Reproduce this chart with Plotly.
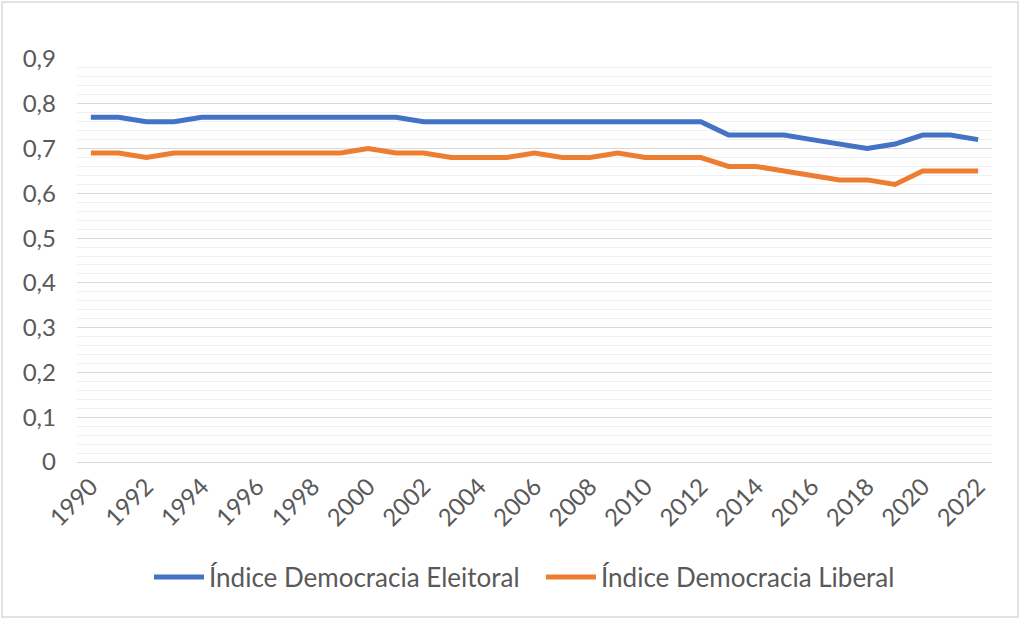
import plotly.graph_objects as go

years = list(range(1990, 2023))
eleitoral = [0.77, 0.77, 0.76, 0.76, 0.77, 0.77, 0.77, 0.77, 0.77, 0.77,
             0.77, 0.77, 0.76, 0.76, 0.76, 0.76, 0.76, 0.76, 0.76, 0.76,
             0.76, 0.76, 0.76, 0.73, 0.73, 0.73, 0.72, 0.71, 0.70, 0.71,
             0.73, 0.73, 0.72]
liberal = [0.69, 0.69, 0.68, 0.69, 0.69, 0.69, 0.69, 0.69, 0.69, 0.69,
           0.70, 0.69, 0.69, 0.68, 0.68, 0.68, 0.69, 0.68, 0.68, 0.69,
           0.68, 0.68, 0.68, 0.66, 0.66, 0.65, 0.64, 0.63, 0.63, 0.62,
           0.65, 0.65, 0.65]
names = ["Índice Democracia Eleitoral", "Índice Democracia Liberal"]
colors = ["#4472C4", "#ED7D31"]

fig = go.Figure()
for vals, name, col in zip([eleitoral, liberal], names, colors):
    fig.add_trace(go.Scatter(x=years, y=vals, mode="lines", name=name,
                             line=dict(color=col, width=5)))

W, H = 1024, 620
L, R, T, B = 77, 32, 59, 158
pw, ph = W - L - R, H - T - B

fig.update_layout(
    width=W, height=H,
    margin=dict(l=L, r=R, t=T, b=B),
    paper_bgcolor="white", plot_bgcolor="white",
    separators=",.",
    font=dict(family="Lato", size=24, color="#595959"),
    showlegend=True,
    legend=dict(orientation="h", xref="container", x=(155 - 6) / 1024, xanchor="left",
                yref="container", y=(620 - 577) / 620, yanchor="middle",
                font=dict(size=26, color="#595959"), tracegroupgap=0,
                itemwidth=50, entrywidth=327, entrywidthmode="pixels"),
    xaxis=dict(range=[1989.5, 2022.5], tickmode="linear", tick0=1990, dtick=2,
               tickangle=-45, showgrid=False, zeroline=False,
               showline=True, linecolor="#d9d9d9", linewidth=1,
               ticks="", tickfont=dict(size=24, color="#595959")),
    yaxis=dict(range=[0, 0.9], tickmode="linear", tick0=0, dtick=0.1,
               showgrid=True, gridcolor="#d9d9d9", gridwidth=1,
               zeroline=False, showline=False, ticks="",
               ticklabelstandoff=20,
               tickfont=dict(size=24, color="#595959"),
               minor=dict(dtick=0.02, showgrid=True, gridcolor="#f0f0f0", gridwidth=1)),
    shapes=[dict(type="rect", xref="paper", yref="paper",
                 x0=(2 - L) / pw, x1=(1018 - L) / pw,
                 y0=(H - B - 617) / ph, y1=(H - B - 2) / ph,
                 line=dict(color="#d9d9d9", width=1.5), fillcolor="rgba(0,0,0,0)",
                 layer="below")],
)

fig.write_html("out.html", config={"displayModeBar": False},
               post_script="document.body.style.margin='0';document.body.style.overflow='hidden';")
